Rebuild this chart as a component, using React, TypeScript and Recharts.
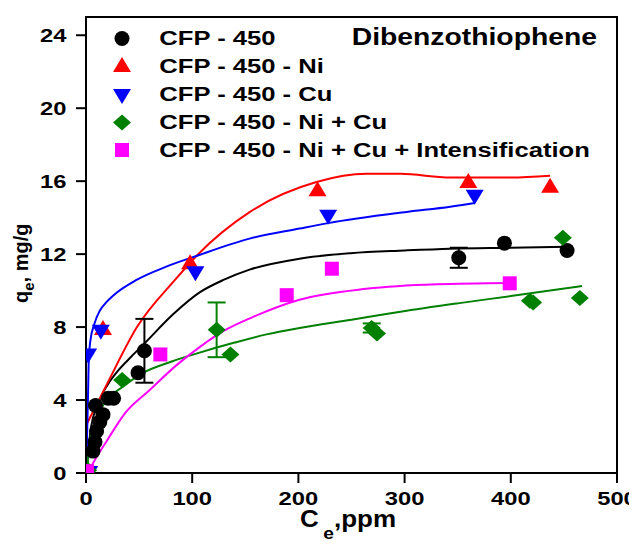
import React from 'react';
import { ComposedChart, XAxis, YAxis, Line, Scatter, ErrorBar, ReferenceArea } from 'recharts';

const FONT = "'Liberation Sans', Arial, Helvetica, sans-serif";

const seriesNames = [
  'CFP - 450',
  'CFP - 450 - Ni',
  'CFP - 450 - Cu',
  'CFP - 450 - Ni + Cu',
  'CFP - 450 - Ni + Cu + Intensification',
];
const titleText = 'Dibenzothiophene';
const xTicks = [0, 100, 200, 300, 400, 500];
const yTicks = [0, 4, 8, 12, 16, 20, 24];

// Experimental points (Ce, qe) and error bars
const cfpX = [6.6, 8.5, 10, 13, 16, 9, 21, 26, 49, 55, 351, 394, 453];
const cfpY = [1.2, 1.7, 2.3, 2.8, 3.2, 3.7, 4.1, 4.1, 5.5, 6.7, 11.8, 12.6, 12.2];
const cfpErr = [null, null, null, null, null, null, null, null, null, 1.75, 0.55, null, null];

const niX = [16, 98, 218, 360, 437];
const niY = [7.9, 11.5, 15.5, 15.95, 15.7];

const cuX = [3, 2, 14, 103, 228, 366];
const cuY = [0.05, 6.5, 7.8, 11.0, 14.1, 15.2];

const nicuX = [2, 34, 123, 136, 269, 274, 418, 421, 449, 465];
const nicuY = [0.15, 5.1, 7.85, 6.5, 7.95, 7.65, 9.45, 9.35, 12.9, 9.6];
const nicuErr = [null, null, 1.5, null, 0.25, null, null, null, null, null];

const intX = [1, 70, 189, 231.5, 399];
const intY = [0.1, 6.5, 9.75, 11.2, 10.4];

// Fitted curves
const cfpFitX = [2, 5, 10, 15, 21, 30, 43, 55, 82, 107, 130, 154, 201, 249, 300, 343, 400, 453];
const cfpFitY = [1.2, 2.6, 3.6, 4.3, 4.9, 5.6, 6.4, 7.1, 8.7, 9.9, 10.6, 11.15, 11.75, 12.05, 12.2, 12.3, 12.35, 12.4];

const niFitX = [0, 20, 48, 84, 104, 154, 217, 264, 296, 343, 400, 437];
const niFitY = [2.6, 4.9, 8.0, 10.6, 11.9, 14.3, 15.95, 16.4, 16.4, 16.2, 16.2, 16.3];

const cuFitX = [0.5, 1, 2, 2.5, 4, 8, 13, 19, 26, 48, 75, 104, 154, 201, 228, 300, 343, 366];
const cuFitY = [0, 2, 4.5, 6, 7.2, 8.2, 8.9, 9.35, 9.75, 10.6, 11.3, 11.9, 12.85, 13.4, 13.7, 14.3, 14.6, 14.8];

const nicuFitX = [1.5, 3, 6.5, 13, 23, 34, 54, 80, 107, 140, 170, 201, 250, 296, 350, 400, 467];
const nicuFitY = [0.2, 1.6, 2.4, 3.4, 4.2, 4.7, 5.5, 6.1, 6.6, 7.15, 7.6, 7.95, 8.4, 8.84, 9.3, 9.7, 10.25];

const intFitX = [2, 4.5, 20, 37, 60, 85, 107, 130, 157, 201, 264, 330, 399];
const intFitY = [0, 0.3, 1.8, 3.3, 4.55, 5.9, 6.9, 7.8, 8.55, 9.5, 10.1, 10.35, 10.42];

const zip = (xs: number[], ys: number[], es?: (number | null)[]) =>
  xs.map((x, i) => ({ x, y: ys[i], err: es ? es[i] : null }));

const COLORS = ['#000000', '#ff0000', '#0000ff', '#008000', '#ff00ff'];

const SText = ({ x, y, s, size, anchor = 'start', children }: any) => (
  <text
    transform={`translate(${x},${y}) scale(${s},1)`}
    fontFamily={FONT}
    fontWeight={700}
    fontSize={size}
    textAnchor={anchor}
    fill="#000"
  >
    {children}
  </text>
);

const XTick = (p: any) => (
  <SText x={p.x} y={p.y + 22} s={1.25} size={19} anchor="middle">
    {p.payload.value}
  </SText>
);
const YTick = (p: any) => (
  <SText x={p.x - 9.5} y={p.y + 6.8} s={1.25} size={19} anchor="end">
    {p.payload.value}
  </SText>
);

const CircleM = ({ cx, cy, fill }: any) => <circle cx={cx} cy={cy} r={7.5} fill={fill} />;
const UpTri = ({ cx, cy, fill }: any) => (
  <polygon points={`${cx},${cy - 9} ${cx + 9},${cy + 6} ${cx - 9},${cy + 6}`} fill={fill} />
);
const DownTri = ({ cx, cy, fill }: any) => (
  <polygon points={`${cx - 9},${cy - 6} ${cx + 9},${cy - 6} ${cx},${cy + 9}`} fill={fill} />
);
const Diamond = ({ cx, cy, fill }: any) => (
  <polygon points={`${cx},${cy - 8} ${cx + 9},${cy} ${cx},${cy + 8} ${cx - 9},${cy}`} fill={fill} />
);
const SquareM = ({ cx, cy, fill }: any) => (
  <rect x={cx - 7} y={cy - 7} width={14} height={14} fill={fill} />
);
const MARKERS = [CircleM, UpTri, DownTri, Diamond, SquareM];

const W = 629;
const H = 536;

export default function App() {
  const pts = [
    zip(cfpX, cfpY, cfpErr),
    zip(niX, niY),
    zip(cuX, cuY),
    zip(nicuX, nicuY, nicuErr),
    zip(intX, intY),
  ];
  const fits = [
    zip(cfpFitX, cfpFitY),
    zip(niFitX, niFitY),
    zip(cuFitX, cuFitY),
    zip(nicuFitX, nicuFitY),
    zip(intFitX, intFitY),
  ];
  const legendCy = [30.5, 58, 87, 114.5, 142];
  const legendBase = [37, 65.3, 93, 121.3, 148.7];

  return (
    <div style={{ position: 'relative', width: W, height: H }}>
      <ComposedChart width={W} height={H} margin={{ top: 9, right: 20, bottom: 0, left: 0 }}>
        <XAxis
          dataKey="x"
          type="number"
          domain={[0, 500]}
          ticks={xTicks}
          interval={0}
          allowDataOverflow
          height={71}
          tickSize={10}
          tickMargin={0}
          axisLine={{ stroke: '#000', strokeWidth: 2 }}
          tickLine={{ stroke: '#000', strokeWidth: 2 }}
          tick={<XTick />}
        />
        <YAxis
          dataKey="y"
          type="number"
          domain={[0, 25]}
          ticks={yTicks}
          interval={0}
          allowDataOverflow
          width={78}
          tickSize={10}
          tickMargin={0}
          axisLine={{ stroke: '#000', strokeWidth: 2 }}
          tickLine={{ stroke: '#000', strokeWidth: 2 }}
          tick={<YTick />}
        />
        <ReferenceArea
          x1={0}
          x2={500}
          y1={0}
          y2={25}
          fill="none"
          stroke="#000"
          strokeWidth={2}
          ifOverflow="visible"
        />
        {fits.map((d, i) => (
          <Line
            key={'fit' + i}
            data={d}
            dataKey="y"
            type="monotone"
            stroke={COLORS[i]}
            strokeWidth={2}
            dot={false}
            activeDot={false}
            isAnimationActive={false}
          />
        ))}
        {pts.map((d, i) => {
          const M = MARKERS[i];
          return (
            <Scatter
              key={'pts' + i}
              data={d}
              dataKey="y"
              isAnimationActive={false}
              shape={(p: any) => <M cx={p.cx} cy={p.cy} fill={COLORS[i]} />}
            >
              {(i === 0 || i === 3) && (
                <ErrorBar
                  dataKey="err"
                  direction="y"
                  width={9}
                  stroke={COLORS[i]}
                  strokeWidth={2}
                  isAnimationActive={false}
                />
              )}
            </Scatter>
          );
        })}
      </ComposedChart>
      <svg
        width={W}
        height={H}
        style={{ position: 'absolute', left: 0, top: 0, pointerEvents: 'none' }}
      >
        {seriesNames.map((name, i) => {
          const M = MARKERS[i];
          return (
            <g key={name}>
              <M cx={114} cy={legendCy[i]} fill={COLORS[i]} />
              <SText x={151.3} y={legendBase[i]} s={1.22} size={21}>
                {name}
              </SText>
            </g>
          );
        })}
        <SText x={343.7} y={37} s={1.18} size={24}>
          {titleText}
        </SText>
        <text
          transform="translate(20,295) rotate(-90)"
          fontFamily={FONT}
          fontWeight={700}
          fontSize={20}
          fill="#000"
        >
          <tspan>q</tspan>
          <tspan dy={6} fontSize={15}>e</tspan>
          <tspan dy={-6}>, mg/g</tspan>
        </text>
        <text
          transform="translate(292,519) scale(1.13,1)"
          fontFamily={FONT}
          fontWeight={700}
          fontSize={23}
          fill="#000"
        >
          <tspan>C</tspan>
          <tspan dx={4} dy={12} fontSize={17}>e</tspan>
          <tspan dy={-12}>,ppm</tspan>
        </text>
      </svg>
    </div>
  );
}
